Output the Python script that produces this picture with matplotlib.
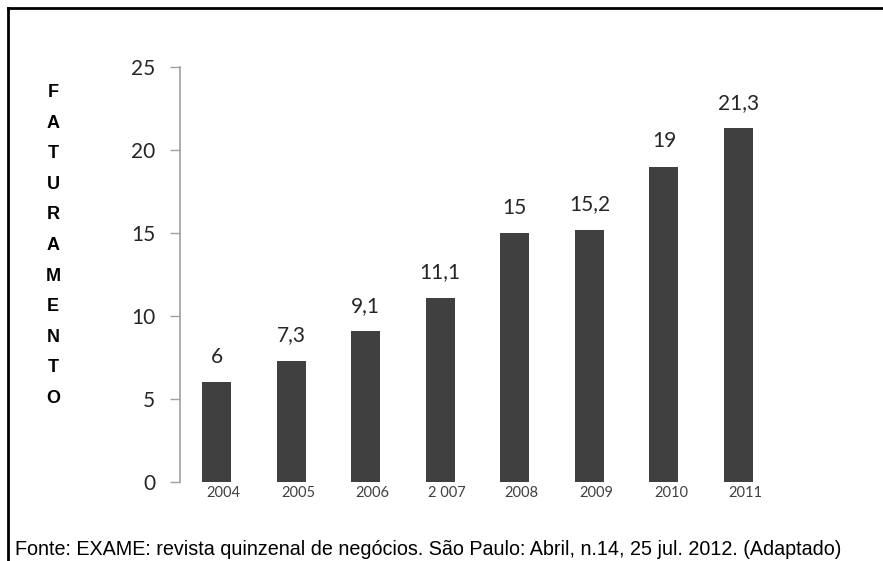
import matplotlib
matplotlib.use("Agg")
import matplotlib.pyplot as plt
from matplotlib.lines import Line2D
from matplotlib.transforms import ScaledTranslation

years = ["2004", "2005", "2006", "2 007", "2008", "2009", "2010", "2011"]
values = [6, 7.3, 9.1, 11.1, 15, 15.2, 19, 21.3]
value_labels = ["6", "7,3", "9,1", "11,1", "15", "15,2", "19", "21,3"]
yticks = [0, 5, 10, 15, 20, 25]
ylabel = "FATURAMENTO"
source = "Fonte: EXAME: revista quinzenal de negócios. São Paulo: Abril, n.14, 25 jul. 2012. (Adaptado)"

W, H = 883, 561
fig = plt.figure(figsize=(W / 100, H / 100), dpi=100)
ax = fig.add_axes([180 / W, 1 - 482 / H, (775 - 180) / W, (482 - 67) / H])

x = list(range(len(years)))
ax.bar(x, values, width=0.39, color="#404040")
ax.set_xlim(-0.49, len(years) - 0.51)
ax.set_ylim(0, 25)
ax.set_yticks(yticks)
ax.set_yticklabels([str(t) for t in yticks], fontsize=15, family="Lato", color="#262626")
ax.set_xticks(x)
ax.set_xticklabels(years, fontsize=10.5, family="Lato", color="#404040")
ax.tick_params(axis="x", length=0, pad=3)
ax.tick_params(axis="y", length=7.2, width=1, color="#a0a0a0", pad=10.5)
shift = ScaledTranslation(7 / 100, 0, fig.dpi_scale_trans)
for lab in ax.get_xticklabels():
    lab.set_transform(lab.get_transform() + shift)
for s in ["top", "right", "bottom"]:
    ax.spines[s].set_visible(False)
ax.spines["left"].set_color("#a0a0a0")
ax.spines["left"].set_linewidth(1.2)

for xi, v, lab in zip(x, values, value_labels):
    ax.annotate(lab, (xi, v), xytext=(0, 13.9), textcoords="offset points",
                ha="center", va="baseline", fontsize=15, family="Lato", color="#262626")

fig.text(53 / W, 1 - 245.5 / H, "\n".join(ylabel), ha="center", va="center",
         fontsize=13, fontweight="bold", family="Liberation Sans", linespacing=2.04)

fig.text(15 / W, 1 - 555 / H, source, ha="left", va="baseline", fontsize=14.25,
         family="Liberation Sans", color="black")

fig.add_artist(Line2D([8 / W, 1], [1 - 8 / H, 1 - 8 / H], transform=fig.transFigure,
                      color="black", linewidth=2))
fig.add_artist(Line2D([8 / W, 8 / W], [0, 1 - 8 / H], transform=fig.transFigure,
                      color="black", linewidth=2))

fig.savefig("out.png", dpi=100)
